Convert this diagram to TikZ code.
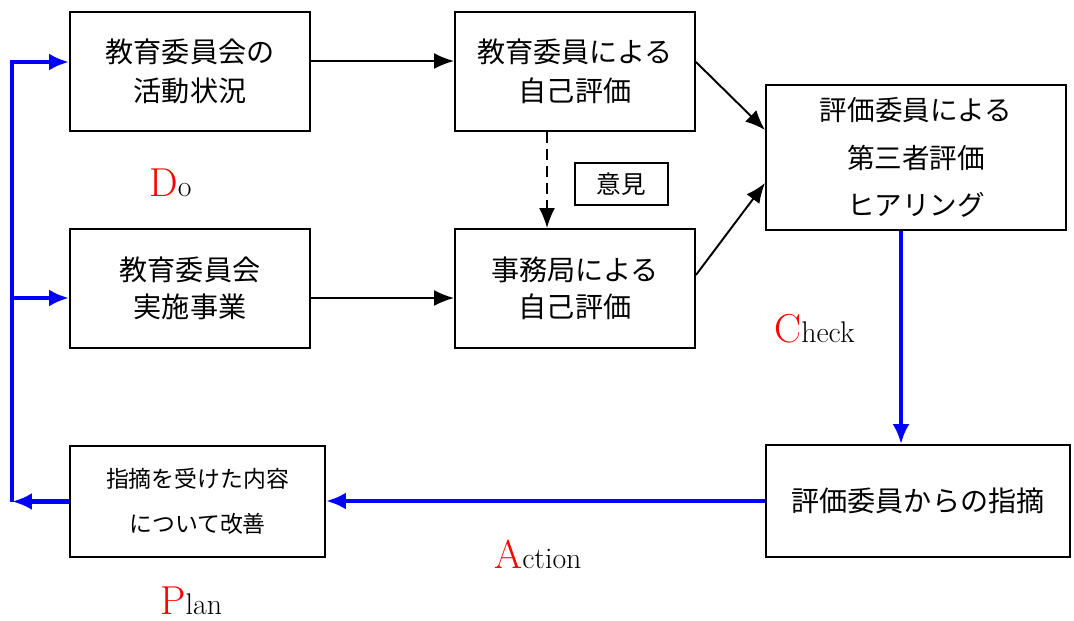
\documentclass[tikz,border=0pt]{standalone}
\usepackage{fontspec}
\newfontfamily\jp{Noto Sans CJK JP}
\usetikzlibrary{arrows.meta}
\newcommand\pdcalabel[2]{{\fontsize{23}{23}\selectfont\color{red}#1}{\fontsize{17}{17}\selectfont #2}}
\begin{document}
\begin{tikzpicture}[x=0.02cm,y=-0.02cm,
  box/.style={draw,line width=1.1pt,inner sep=0pt,align=center,font=\jp\fontsize{16}{22}\selectfont},
  flow/.style={-{Latex[length=0.4cm,width=0.32cm]},line width=1.1pt},
  back/.style={-{Latex[length=0.4cm,width=0.34cm]},line width=2.4pt,blue},
  pdca/.style={anchor=base west,inner sep=0pt}]
\useasboundingbox (0,0) rectangle (1074,621);
% boxes
\node[box,minimum width=4.8cm,minimum height=2.38cm] (act) at (190,71.5) {教育委員会の\\活動状況};
\node[box,minimum width=4.8cm,minimum height=2.38cm] (memb) at (575,71.5) {教育委員による\\自己評価};
\node[box,minimum width=6cm,minimum height=2.9cm,font=\jp\fontsize{15.7}{27}\selectfont] (thd) at (916,157.5) {評価委員による\\第三者評価\\ヒアリング};
\node[box,minimum width=1.86cm,minimum height=0.84cm,font=\jp\fontsize{14}{14}\selectfont] (opn) at (621.5,184) {意見};
\node[box,minimum width=4.8cm,minimum height=2.38cm,font=\jp\fontsize{16}{21}\selectfont] (biz) at (190,288.5) {教育委員会\\実施事業};
\node[box,minimum width=4.8cm,minimum height=2.38cm,font=\jp\fontsize{16}{21}\selectfont] (sec) at (575,288.5) {事務局による\\自己評価};
\node[box,minimum width=5.1cm,minimum height=2.22cm,font=\jp\fontsize{13}{25.5}\selectfont] (imp) at (197.5,501.5) {指摘を受けた内容\\について改善};
\node[box,minimum width=6.08cm,minimum height=2.24cm] (ptr) at (918,501) {評価委員からの指摘};
% black arrows
\draw[flow] ([yshift=0.21cm]act.east) -- ([yshift=0.21cm]memb.west);
\draw[flow] ([yshift=-0.19cm]biz.east) -- ([yshift=-0.19cm]sec.west);
\draw[flow] ([yshift=0.19cm]memb.east) -- ([yshift=0.55cm]thd.west);
\draw[flow] ([yshift=0.27cm]sec.east) -- ([yshift=-0.51cm]thd.west);
\draw[flow,dash pattern=on 0.22cm off 0.12cm] ([xshift=-0.56cm]memb.south) -- ([xshift=-0.56cm]sec.north);
% blue loop
\coordinate (dn) at ([xshift=-0.3cm]thd.south);
\coordinate (lft) at (12,500);
\coordinate (inA) at ([yshift=0.19cm]act.west);
\coordinate (inE) at ([yshift=-0.19cm]biz.west);
\draw[back] (dn) -- (dn |- ptr.north);
\draw[back] (ptr.west) -- (ptr.west -| imp.east);
\draw[back] (imp.west) -- (imp.west -| lft);
\draw[back] (imp.west -| lft) |- (inA);
\draw[back] (inE -| lft) -- (inE);
% labels
\node[pdca] (do) at (149,197) {\pdcalabel{D}{o}};
\node[pdca] (check) at (774,342) {\pdcalabel{C}{heck}};
\node[pdca] (action) at (494,568) {\pdcalabel{A}{ction}};
\node[pdca] (plan) at (160,614) {\pdcalabel{P}{lan}};
\end{tikzpicture}
\end{document}
